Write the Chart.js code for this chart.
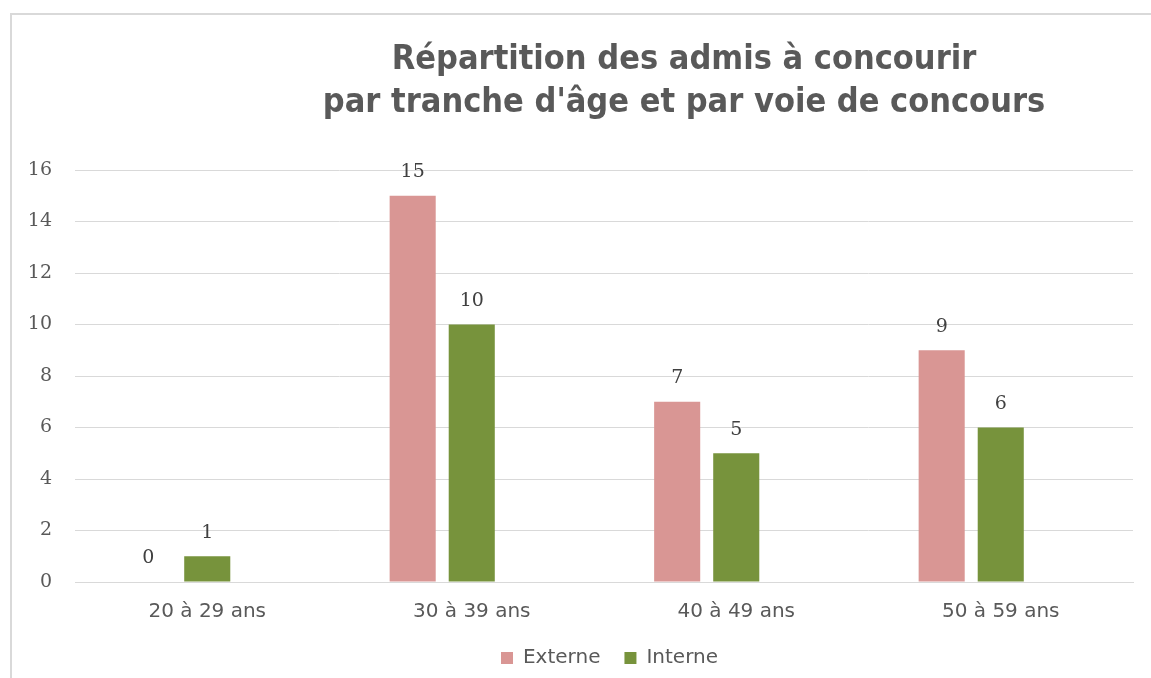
<!DOCTYPE html>
<html>
<head>
<meta charset="utf-8">
<script src="https://cdn.jsdelivr.net/npm/chart.js@4/dist/chart.umd.min.js"></script>
<style>
  html, body { margin: 0; padding: 0; background: #fff; }
  #wrap { position: relative; width: 1151px; height: 678px; overflow: hidden; }
  #frame { position: absolute; left: 10px; top: 13px; right: -5px; bottom: -5px;
           border-left: 2px solid #d9d9d9; border-top: 2px solid #d9d9d9; }
  #chart { position: absolute; left: 0; top: 0; }
</style>
</head>
<body>
<div id="wrap">
  <div id="frame"></div>
  <canvas id="chart" width="1151" height="678"></canvas>
</div>
<script>
    const categories = ['20 à 29 ans', '30 à 39 ans', '40 à 49 ans', '50 à 59 ans'];
    const externe = [0, 15, 7, 9];
    const interne = [1, 10, 5, 6];
    const yTicks = [0, 2, 4, 6, 8, 10, 12, 14, 16];
    const titleLines = ['Répartition des admis à concourir', "par tranche d'âge et par voie de concours"];

    // titre centré comme dans l'original (décalé vers la droite)
    const titlePlugin = {
        id: 'titreDecale',
        afterLayout(chart) {
            // la légende de l'original est aussi un peu à droite
            chart.legend.left += 38;
            chart.legend.right += 38;
        },
        afterDraw(chart) {
            const ctx = chart.ctx;
            ctx.save();
            ctx.font = 'bold 34px "DejaVu Sans Condensed", "DejaVu Sans", sans-serif';
            ctx.fillStyle = '#595959';
            ctx.textAlign = 'center';
            ctx.textBaseline = 'middle';
            ctx.fillText(titleLines[0], 684, 60);
            ctx.fillText(titleLines[1], 684, 103);
            ctx.restore();
        }
    };

    // valeurs au-dessus des barres
    const valuesPlugin = {
        id: 'valeurs',
        afterDatasetsDraw(chart) {
            const ctx = chart.ctx;
            ctx.save();
            ctx.font = '19px "DejaVu Serif", serif';
            ctx.fillStyle = '#404040';
            ctx.textAlign = 'center';
            ctx.textBaseline = 'bottom';
            [0, 1].forEach(di => {
                const meta = chart.getDatasetMeta(di);
                meta.data.forEach((bar, i) => {
                    const v = chart.data.datasets[di].data[i];
                    if (v === null) return;
                    ctx.fillText(String(v), bar.x, bar.y - 14);
                });
            });
            ctx.restore();
        }
    };

    new Chart(document.getElementById('chart'), {
        type: 'bar',
        data: {
            labels: categories,
            datasets: [{
                label: 'Externe',
                data: externe,
                backgroundColor: '#D99694',
                categoryPercentage: 0.67,
                barPercentage: 0.78
            },
            {
                label: 'Interne',
                data: interne,
                backgroundColor: '#77933C',
                categoryPercentage: 0.67,
                barPercentage: 0.78
            },
            {
                // série vide : l'original réserve une 3e place dans chaque groupe
                label: '',
                data: [null, null, null, null],
                backgroundColor: 'rgba(0,0,0,0)',
                categoryPercentage: 0.67,
                barPercentage: 0.78
            }
            ]
        },
        options: {
            responsive: false,
            animation: false,
            layout: { padding: { left: 10, right: 18, top: 170, bottom: 0 } },
            plugins: {
                title: { display: false },
                tooltip: { enabled: false },
                legend: {
                    position: 'bottom',
                    maxHeight: 56,
                    labels: {
                        filter: item => item.datasetIndex < 2,
                        boxWidth: 12,
                        boxHeight: 12,
                        padding: 24,
                        color: '#595959',
                        font: { family: '"DejaVu Sans", sans-serif', size: 20, lineHeight: 1 }
                    }
                }
            },
            scales: {
                x: {
                    afterFit: axis => { axis.height = 42; },
                    grid: { display: false, drawTicks: false },
                    border: { color: '#d9d9d9', width: 1 },
                    ticks: {
                        color: '#595959',
                        padding: 20,
                        font: { family: '"DejaVu Sans", sans-serif', size: 20, lineHeight: 1 }
                    }
                },
                y: {
                    min: 0,
                    max: 16,
                    afterBuildTicks: axis => { axis.ticks = yTicks.map(v => ({ value: v })); },
                    afterFit: axis => { axis.width = 65; },
                    grid: { color: '#d9d9d9', lineWidth: 1, drawTicks: false },
                    border: { display: false },
                    ticks: {
                        color: '#595959',
                        padding: 23,
                        font: { family: '"DejaVu Serif", serif', size: 19 }
                    }
                }
            }
        },
        plugins: [titlePlugin, valuesPlugin]
    });
</script>
</body>
</html>
